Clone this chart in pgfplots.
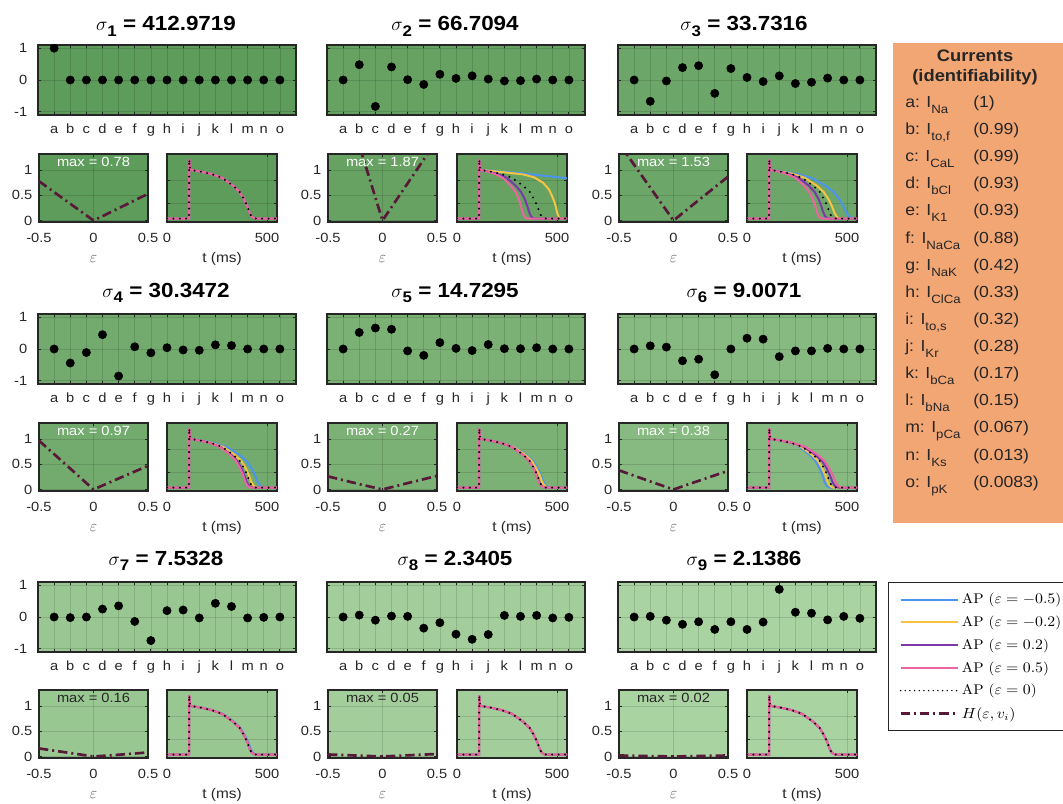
\documentclass[border=0pt]{standalone}
\usepackage{fontspec}
\setsansfont{Liberation Sans}[FakeStretch=1.1]
\renewcommand*\familydefault{\sfdefault}
\usepackage{graphicx}
\usepackage{pgfplots}
\usepackage{pgfplotstable}
\pgfplotsset{compat=1.18}

\definecolor{axgray}{RGB}{38,38,38}
\definecolor{apblue}{RGB}{77,148,240}
\definecolor{apyellow}{RGB}{247,196,66}
\definecolor{appurple}{RGB}{125,55,170}
\definecolor{appink}{RGB}{236,100,160}
\definecolor{hmaroon}{RGB}{88,24,56}
\definecolor{boxorange}{RGB}{241,166,116}
\definecolor{gA}{RGB}{94,156,91}
\definecolor{gB}{RGB}{103,162,99}
\definecolor{gC}{RGB}{108,166,104}
\definecolor{gD}{RGB}{115,171,110}
\definecolor{gE}{RGB}{123,177,117}
\definecolor{gF}{RGB}{134,186,128}
\definecolor{gG}{RGB}{153,199,145}
\definecolor{gH}{RGB}{163,206,155}
\definecolor{gI}{RGB}{170,211,162}

% singular-vector components for the 15 currents, one column per sigma
\pgfplotstableread{
i s1 s2 s3 s4 s5 s6 s7 s8 s9
1 1 0 0 0 0 0 0 0 0
2 0 0.48 -0.67 -0.44 0.52 0.10 -0.02 0.06 0.02
3 0 -0.83 -0.03 -0.11 0.66 0.06 0 -0.10 -0.10
4 0 0.41 0.39 0.45 0.62 -0.37 0.25 0.03 -0.23
5 0 0.01 0.45 -0.85 -0.06 -0.32 0.35 0.02 -0.15
6 0 -0.14 -0.42 0.07 -0.20 -0.81 -0.14 -0.35 -0.39
7 0 0.18 0.36 -0.12 0.20 0 -0.74 -0.18 -0.15
8 0 0.05 0.08 0.04 0.02 0.34 0.20 -0.54 -0.39
9 0 0.13 -0.05 -0.03 -0.05 0.31 0.22 -0.70 -0.16
10 0 0.03 0.13 -0.04 0.14 -0.24 -0.03 -0.55 0.87
11 0 -0.03 -0.11 0.13 0.01 -0.06 0.43 0.05 0.15
12 0 -0.02 -0.07 0.11 0.01 -0.06 0.33 0.02 0.12
13 0 0.03 0.06 0 0.04 0.02 -0.03 0.05 -0.09
14 0 0 0 0 0 0 -0.01 -0.03 0.02
15 0 0 0 0 0 0 0 -0.01 -0.04
}\dotsdata

% normalised action potentials: v against time (ms)
\pgfplotstableread{
v tz
0 0
0 110
1.22 111
1.02 115
1.0 121
0.97 165
0.92 220
0.84 275
0.68 330
0.55 363
0.40 385
0.25 402
0.12 413
0.04 424
0.01 435
0 446
0 550
}\apbase

\pgfplotstableread{
v tp tk
0 0 0
0 110 110
1.22 111 111
1.02 115 115
1.0 119 118
0.97 156 150
0.92 201 189
0.84 248 229
0.68 293 268
0.55 320 293
0.40 339 309
0.25 352 320
0.12 362 329
0.04 371 337
0.01 380 344
0 388 352
0 550 550
}\apB

\pgfplotstableread{
v tb ty tp tk
0 0 0 0 0
0 110 110 110 110
1.22 111 111 111 111
1.02 115 115 115 115
1.0 124 122 120 119
0.97 180 169 160 154
0.92 251 229 209 198
0.84 321 288 259 242
0.68 392 348 308 285
0.55 433 383 338 311
0.40 462 407 358 329
0.25 483 425 372 342
0.12 497 437 382 351
0.04 510 448 392 360
0.01 525 460 402 369
0 539 472 411 377
0 550 550 550 550
}\apC

\pgfplotstableread{
v tb ty tp tk
0 0 0 0 0
0 110 110 110 110
1.22 111 111 111 111
1.02 115 115 115 115
1.0 122 121 121 120
0.97 173 167 163 161
0.92 235 223 215 212
0.84 297 281 267 263
0.68 360 337 320 315
0.55 397 371 351 345
0.40 422 394 372 365
0.25 441 410 388 381
0.12 453 421 398 391
0.04 466 433 409 402
0.01 479 444 419 411
0 492 455 430 421
0 550 550 550 550
}\apD

\pgfplotstableread{
v tb ty tp tk
0 0 0 0 0
0 110 110 110 110
1.22 111 111 111 111
1.02 115 115 115 115
1.0 122 121 121 121
0.97 168 167 165 164
0.92 227 224 219 219
0.84 286 282 274 273
0.68 344 339 329 327
0.55 380 373 361 360
0.40 403 396 383 382
0.25 420 414 399 397
0.12 432 425 410 408
0.04 443 437 421 419
0.01 455 448 432 430
0 468 460 443 441
0 550 550 550 550
}\apE

\pgfplotstableread{
v tb ty tp tk
0 0 0 0 0
0 110 110 110 110
1.22 111 111 111 111
1.02 115 115 115 115
1.0 120 121 121 122
0.97 161 163 167 171
0.92 211 217 226 231
0.84 262 270 283 292
0.68 312 323 340 352
0.55 342 355 375 387
0.40 363 376 398 411
0.25 378 393 415 430
0.12 388 403 427 442
0.04 398 414 438 454
0.01 408 425 450 466
0 418 436 461 479
0 550 550 550 550
}\apF

\pgfplotstableread{
v tb
0 0
0 110
1.22 111
1.02 115
1.0 121
0.97 166
0.92 222
0.84 278
0.68 333
0.55 367
0.40 389
0.25 407
0.12 418
0.04 429
0.01 440
0 451
0 550
}\apG

\pgfplotsset{
  every axis/.append style={
    scale only axis,
    axis line style={draw=axgray, line width=1.1pt},
    tick style={draw=axgray, line width=0.6pt},
    major tick length=2.5pt,
    tick align=inside,
    tick pos=both,
    ticklabel style={font=\fontsize{10}{12}\selectfont, text=axgray},
    /pgf/number format/assume math mode=true,
    grid=major,
    major grid style={draw=black, opacity=0.13, line width=0.5pt},
  },
  dotsax/.style={width=193.5pt, height=52.5pt, anchor=north west,
    xmin=0, xmax=16, ymin=-1.1, ymax=1.1, clip=false,
    xtick={1,...,15}, xticklabels={a,b,c,d,e,f,g,h,i,j,k,l,m,n,o},
    ytick={-1,0,1}, xticklabel style={anchor=base, yshift=-13.5pt},
    yticklabel style={xshift=-4.5pt}},
  hax/.style={width=81.75pt, height=51pt, anchor=north west,
    xmin=-0.5, xmax=0.5, ymin=-0.03, ymax=1.32,
    xtick={-0.5,0,0.5}, ytick={0,0.5,1},
    xticklabel style={anchor=base, yshift=-15pt},
    yticklabel style={xshift=-1.5pt},
    xlabel={$\varepsilon$},
    xlabel style={at={(axis description cs:0.5,0)}, anchor=base, yshift=-30pt,
      text=black!62, font=\fontsize{11.5}{12}\selectfont}},
  apax/.style={width=82.5pt, height=51pt, anchor=north west,
    xmin=0, xmax=550, ymin=-0.07, ymax=1.33,
    xtick={0,500}, ytick={0.32,0.79}, yticklabels={},
    xticklabel style={anchor=base, yshift=-15pt},
    xlabel={t (ms)},
    xlabel style={at={(axis description cs:0.5,0)}, anchor=base, yshift=-30pt,
      text=axgray, font=\fontsize{10.5}{12}\selectfont}},
  apb/.style={apblue, line width=1.5pt},
  apy/.style={apyellow, line width=1.5pt},
  app/.style={appurple, line width=1.5pt},
  apk/.style={appink, line width=1.5pt},
  apz/.style={black, line width=1.7pt, line cap=round, dash pattern=on 0pt off 4.8pt},
  hcurve/.style={hmaroon, line width=2pt, dash pattern=on 7pt off 3pt on 1.5pt off 3pt},
}

% component plot: x, y, background, column, extra options
\newcommand{\Daxis}[5]{%
\begin{axis}[dotsax, at={(#1,#2)}, axis background/.style={fill=#3}, #5]
\addplot[only marks, mark=*, mark size=3.1pt, mark options={draw=black, fill=black}] table[x=i, y=#4]{\dotsdata};
\end{axis}}

% error functional H: x, y, background, coordinates, max value, label colour
\newcommand{\Haxis}[6]{%
\begin{axis}[hax, at={(#1,#2)}, axis background/.style={fill=#3}]
\addplot[hcurve] coordinates {#4};
\node[anchor=north, text=#6, font=\fontsize{10}{12}\selectfont, inner sep=2pt] at (rel axis cs:0.5,1) {max = #5};
\end{axis}}

\begin{document}
\begin{tikzpicture}
\useasboundingbox (0,0) rectangle (797.25pt,-602.25pt);

% ---------------- row 1 ----------------
\Daxis{28.5pt}{-33.75pt}{gA}{s1}{}
\Daxis{245.25pt}{-33.75pt}{gB}{s2}{yticklabels={}}
\Daxis{463.5pt}{-33.75pt}{gC}{s3}{yticklabels={}}

\Haxis{29.25pt}{-115.5pt}{gA}{(-0.5,0.78) (-0.2,0.312) (0,0) (0.2,0.21) (0.5,0.53)}{0.78}{white}
\Haxis{246pt}{-115.5pt}{gB}{(-0.5,1.87) (-0.2,1.40) (0,0) (0.2,0.64) (0.5,1.60)}{1.87}{white}
\Haxis{464.25pt}{-115.5pt}{gC}{(-0.5,1.53) (-0.2,0.612) (0,0) (0.2,0.35) (0.5,0.87)}{1.53}{white}

\begin{axis}[apax, at={(125.25pt,-115.5pt)}, axis background/.style={fill=gA}]
\addplot[apb] table[x=tz,y=v]{\apbase};
\addplot[apy] table[x=tz,y=v]{\apbase};
\addplot[app] table[x=tz,y=v]{\apbase};
\addplot[apk] table[x=tz,y=v]{\apbase};
\addplot[apz] table[x=tz,y=v]{\apbase};
\end{axis}

\begin{axis}[apax, at={(342.75pt,-115.5pt)}, axis background/.style={fill=gB}]
\addplot[apb] coordinates {(0,0) (110,0) (111,1.22) (115,1.02) (121,1.0) (220,0.97) (330,0.93) (440,0.88) (550,0.83)};
\addplot[apy] coordinates {(0,0) (110,0) (111,1.22) (115,1.02) (121,1.0) (220,0.96) (330,0.91) (385,0.85) (430,0.74) (460,0.6) (480,0.42) (492,0.28) (501,0.12) (509,0.03) (517,0) (550,0)};
\addplot[app] table[x=tp,y=v]{\apB};
\addplot[apk] table[x=tk,y=v]{\apB};
\addplot[apz] table[x=tz,y=v]{\apbase};
\end{axis}

\begin{axis}[apax, at={(560.25pt,-115.5pt)}, axis background/.style={fill=gC}]
\addplot[apb] table[x=tb,y=v]{\apC};
\addplot[apy] table[x=ty,y=v]{\apC};
\addplot[app] table[x=tp,y=v]{\apC};
\addplot[apk] table[x=tk,y=v]{\apC};
\addplot[apz] table[x=tz,y=v]{\apbase};
\end{axis}

% ---------------- row 2 ----------------
\Daxis{28.5pt}{-235.5pt}{gD}{s4}{}
\Daxis{245.25pt}{-235.5pt}{gE}{s5}{yticklabels={}}
\Daxis{463.5pt}{-235.5pt}{gF}{s6}{yticklabels={}}

\Haxis{29.25pt}{-317.25pt}{gD}{(-0.5,0.97) (-0.2,0.39) (0,0) (0.2,0.19) (0.5,0.47)}{0.97}{white}
\Haxis{246pt}{-317.25pt}{gE}{(-0.5,0.26) (-0.2,0.10) (0,0) (0.2,0.11) (0.5,0.27)}{0.27}{white}
\Haxis{464.25pt}{-317.25pt}{gF}{(-0.5,0.38) (-0.2,0.15) (0,0) (0.2,0.15) (0.5,0.37)}{0.38}{white}

\begin{axis}[apax, at={(125.25pt,-317.25pt)}, axis background/.style={fill=gD}]
\addplot[apb] table[x=tb,y=v]{\apD};
\addplot[apy] table[x=ty,y=v]{\apD};
\addplot[app] table[x=tp,y=v]{\apD};
\addplot[apk] table[x=tk,y=v]{\apD};
\addplot[apz] table[x=tz,y=v]{\apbase};
\end{axis}

\begin{axis}[apax, at={(342.75pt,-317.25pt)}, axis background/.style={fill=gE}]
\addplot[apb] table[x=tb,y=v]{\apE};
\addplot[apy] table[x=ty,y=v]{\apE};
\addplot[app] table[x=tp,y=v]{\apE};
\addplot[apk] table[x=tk,y=v]{\apE};
\addplot[apz] table[x=tz,y=v]{\apbase};
\end{axis}

\begin{axis}[apax, at={(560.25pt,-317.25pt)}, axis background/.style={fill=gF}]
\addplot[apb] table[x=tb,y=v]{\apF};
\addplot[apy] table[x=ty,y=v]{\apF};
\addplot[app] table[x=tp,y=v]{\apF};
\addplot[apk] table[x=tk,y=v]{\apF};
\addplot[apz] table[x=tz,y=v]{\apbase};
\end{axis}

% ---------------- row 3 ----------------
\Daxis{28.5pt}{-436.5pt}{gG}{s7}{}
\Daxis{245.25pt}{-436.5pt}{gH}{s8}{yticklabels={}}
\Daxis{463.5pt}{-436.5pt}{gI}{s9}{yticklabels={}}

\Haxis{29.25pt}{-517.5pt}{gG}{(-0.5,0.16) (-0.2,0.065) (0,0) (0.2,0.03) (0.5,0.08)}{0.16}{axgray}
\Haxis{246pt}{-517.5pt}{gH}{(-0.5,0.04) (-0.2,0.016) (0,0) (0.2,0.02) (0.5,0.05)}{0.05}{axgray}
\Haxis{464.25pt}{-517.5pt}{gI}{(-0.5,0.02) (-0.2,0.008) (0,0) (0.2,0.008) (0.5,0.02)}{0.02}{axgray}

\begin{axis}[apax, at={(125.25pt,-517.5pt)}, axis background/.style={fill=gG}]
\addplot[apb] table[x=tb,y=v]{\apG};
\addplot[apy] table[x=tz,y=v]{\apbase};
\addplot[app] table[x=tz,y=v]{\apbase};
\addplot[apk] table[x=tz,y=v]{\apbase};
\addplot[apz] table[x=tz,y=v]{\apbase};
\end{axis}

\begin{axis}[apax, at={(342.75pt,-517.5pt)}, axis background/.style={fill=gH}]
\addplot[apb] table[x=tz,y=v]{\apbase};
\addplot[apy] table[x=tz,y=v]{\apbase};
\addplot[app] table[x=tz,y=v]{\apbase};
\addplot[apk] table[x=tz,y=v]{\apbase};
\addplot[apz] table[x=tz,y=v]{\apbase};
\end{axis}

\begin{axis}[apax, at={(560.25pt,-517.5pt)}, axis background/.style={fill=gI}]
\addplot[apb] table[x=tz,y=v]{\apbase};
\addplot[apy] table[x=tz,y=v]{\apbase};
\addplot[app] table[x=tz,y=v]{\apbase};
\addplot[apk] table[x=tz,y=v]{\apbase};
\addplot[apz] table[x=tz,y=v]{\apbase};
\end{axis}

% ---------------- legend ----------------
\begin{axis}[at={(666pt,-436.5pt)}, anchor=north west, hide axis, scale only axis,
  width=10pt, height=10pt, xmin=0, xmax=1, ymin=0, ymax=1,
  legend style={at={(0,1)}, anchor=north west, draw=axgray, line width=0.9pt, fill=white,
    font=\rmfamily\fontsize{10.5}{12}\selectfont, legend cell align=left, row sep=3.7pt,
    inner xsep=8pt, inner ysep=6pt},
  legend image code/.code={\draw[#1] (0pt,0pt) -- (43pt,0pt);}]
\addlegendimage{apb}
\addlegendentry{\scalebox{1.08}[1]{AP ($\varepsilon=-0.5$)}}
\addlegendimage{apy}
\addlegendentry{\scalebox{1.08}[1]{AP ($\varepsilon=-0.2$)}}
\addlegendimage{app}
\addlegendentry{\scalebox{1.08}[1]{AP ($\varepsilon=0.2$)}}
\addlegendimage{apk}
\addlegendentry{\scalebox{1.08}[1]{AP ($\varepsilon=0.5$)}}
\addlegendimage{black, line width=1.2pt, line cap=round, dash pattern=on 0pt off 3.5pt}
\addlegendentry{\scalebox{1.08}[1]{AP ($\varepsilon=0$)}}
\addlegendimage{hcurve}
\addlegendentry{\scalebox{1.08}[1]{$H(\varepsilon,v_i)$}}
\end{axis}

% ---------------- titles and current list ----------------
\begin{scope}[x=0.75pt, y=-0.75pt]
\newcommand{\ttl}[2]{{\fontsize{15.3}{17}\selectfont\bfseries $\sigma$\raisebox{-4pt}{\fontsize{11.5}{12}\selectfont #1} = #2}}
\node[anchor=base] at (166,30.7) {\ttl{1}{412.9719}};
\node[anchor=base] at (455,30.7) {\ttl{2}{66.7094}};
\node[anchor=base] at (744,30.7) {\ttl{3}{33.7316}};
\node[anchor=base] at (166,297.5) {\ttl{4}{30.3472}};
\node[anchor=base] at (455,297.5) {\ttl{5}{14.7295}};
\node[anchor=base] at (744,297.5) {\ttl{6}{9.0071}};
\node[anchor=base] at (166,565.5) {\ttl{7}{7.5328}};
\node[anchor=base] at (455,565.5) {\ttl{8}{2.3405}};
\node[anchor=base] at (744,565.5) {\ttl{9}{2.1386}};

\fill[boxorange] (893,43) rectangle (1063,523);
\node[font=\fontsize{12.5}{14}\selectfont\bfseries, text=black!85] at (975,56) {Currents};
\node[font=\fontsize{12.5}{14}\selectfont\bfseries, text=black!85] at (975,77) {(identifiability)};
\newcommand{\cur}[4]{%
  \node[anchor=base west, inner sep=0pt, font=\fontsize{12}{14}\selectfont, text=black!85] at (905,{107.3+27.14*#1}) {#2: I\raisebox{-4.5pt}{\fontsize{9}{10}\selectfont #3}};
  \node[anchor=base west, inner sep=0pt, font=\fontsize{12}{14}\selectfont, text=black!85] at (973,{107.3+27.14*#1}) {(#4)};}
\cur{0}{a}{Na}{1}
\cur{1}{b}{to,f}{0.99}
\cur{2}{c}{CaL}{0.99}
\cur{3}{d}{bCl}{0.93}
\cur{4}{e}{K1}{0.93}
\cur{5}{f}{NaCa}{0.88}
\cur{6}{g}{NaK}{0.42}
\cur{7}{h}{ClCa}{0.33}
\cur{8}{i}{to,s}{0.32}
\cur{9}{j}{Kr}{0.28}
\cur{10}{k}{bCa}{0.17}
\cur{11}{l}{bNa}{0.15}
\cur{12}{m}{pCa}{0.067}
\cur{13}{n}{Ks}{0.013}
\cur{14}{o}{pK}{0.0083}
\end{scope}
\end{tikzpicture}
\end{document}
